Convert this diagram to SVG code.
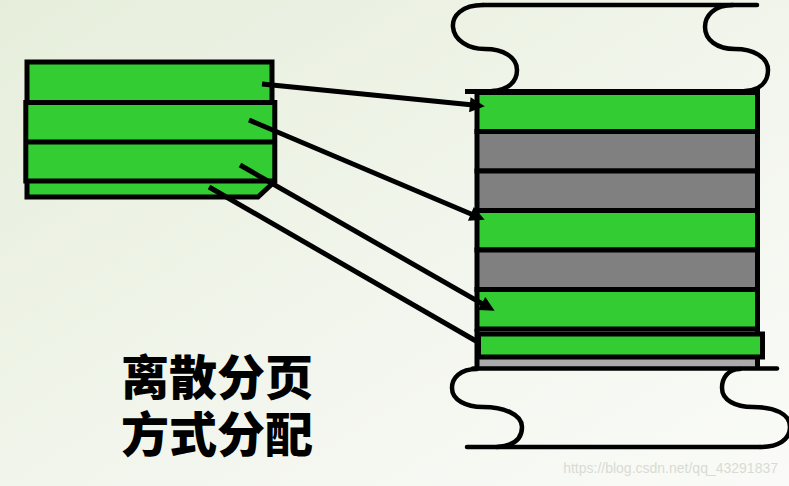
<svg xmlns="http://www.w3.org/2000/svg" width="789" height="486" viewBox="0 0 789 486">
<defs>
<linearGradient id="bg" x1="0" y1="0" x2="1" y2="1">
<stop offset="0" stop-color="#e6eedb"/>
<stop offset="0.6" stop-color="#f3f6ee"/>
<stop offset="1" stop-color="#fafbf8"/>
</linearGradient>
<marker id="ah" viewBox="0 0 10 10" refX="4" refY="5" markerWidth="18" markerHeight="15" markerUnits="userSpaceOnUse" orient="auto">
<path d="M0,0 L10,5 L0,10 z" fill="#000"/>
</marker>
<style>
.g{fill:#33cc33;stroke:#000;stroke-width:5}
.gr{fill:#808080;stroke:#000;stroke-width:5}
.ln{fill:none;stroke:#000;stroke-width:5}
.wv{fill:none;stroke:#000;stroke-width:4.5;stroke-linecap:round}
.cn{fill:none;stroke:#000;stroke-width:5}
.t{font-family:"Noto Sans CJK SC","Noto Sans",sans-serif;font-weight:900;font-size:48px;fill:#000}
</style>
</defs>
<rect width="789" height="486" fill="url(#bg)"/>

<g id="process-pages">
<path class="g" d="M27,62 H272 V184 L258,197 H27 Z"/>
<rect class="g" x="25.8" y="102.5" width="249" height="78.5"/>
<line class="ln" x1="25.8" y1="142" x2="274.8" y2="142"/>
</g>

<g id="memory-top">
<path class="wv" d="M483,5 H757"/>
<path class="wv" d="M483,5 C462,5 452,16 453,27 C454,40 468,49 485,49 C503,49 517,57 517,70 C517,82 508,90 492,91"/>
<path class="wv" d="M733,5 C714,5 705,16 705,27 C705,40 717,49 735,49 C753,49 768,57 768,70 C768,82 760,90 745,91"/>
</g>

<g id="memory-frames">
<rect x="477" y="357" width="280.5" height="11" fill="#ababab"/>
<rect class="g" x="477" y="92.5" width="280.5" height="39"/>
<rect class="gr" x="477" y="131.5" width="280.5" height="39.5"/>
<rect class="gr" x="477" y="171" width="280.5" height="39.5"/>
<rect class="g" x="477" y="210.5" width="280.5" height="39.5"/>
<rect class="gr" x="477" y="250" width="280.5" height="39.5"/>
<rect class="g" x="477" y="289.5" width="280.5" height="39.5"/>
<line class="ln" x1="477" y1="329" x2="477" y2="368"/>
<line class="ln" x1="757.5" y1="329" x2="757.5" y2="368"/>
<line class="ln" x1="465" y1="91.5" x2="760" y2="91.5"/>
<rect class="g" x="478.5" y="334" width="284" height="23"/>
</g>

<g id="memory-bottom">
<path class="wv" d="M473,368.5 H777"/>
<path class="wv" d="M477,369 C460,369 452,378 452,388 C452,400 466,407 483,407 C503,407 522,414 522,427 C522,440 512,446 497,447"/>
<path class="wv" d="M467,447 H760"/>
<path class="wv" d="M740,369 C728,369 722,378 722,388 C722,400 735,407 753,407 C775,407 790,414 790,427 C790,440 778,447 760,447"/>
</g>

<g id="connectors">
<line class="cn" x1="262" y1="84" x2="475.8" y2="105.3" marker-end="url(#ah)"/>
<line class="cn" x1="249" y1="120" x2="476.4" y2="216.2" marker-end="url(#ah)"/>
<line class="cn" x1="240" y1="165" x2="486.8" y2="306.4" marker-end="url(#ah)"/>
<line class="cn" x1="209" y1="187" x2="476" y2="341"/>
</g>

<g id="label">
<text class="t" x="217" y="395" text-anchor="middle">离散分页</text>
<text class="t" x="217" y="452" text-anchor="middle">方式分配</text>
</g>

<text x="778" y="473" text-anchor="end" font-family="Liberation Sans, Arial, sans-serif" font-size="14" fill="#d8dcd4">https://blog.csdn.net/qq_43291837</text>
</svg>
